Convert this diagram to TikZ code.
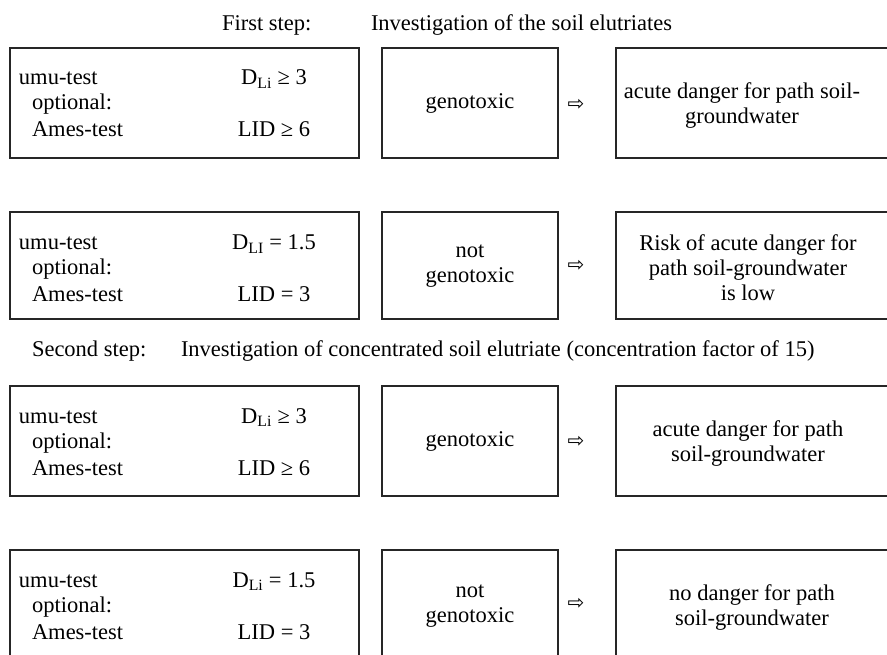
\documentclass[tikz,border=0pt]{standalone}
\usepackage{fontspec}
\setmainfont{Liberation Serif}
\newfontfamily\symfont{DejaVu Sans}
\begin{document}
\begin{tikzpicture}[x=1pt,y=-1pt,
  every node/.style={inner sep=0pt, outer sep=0pt, font=\fontsize{22.5}{25}\selectfont},
  box/.style={draw=black!85, line width=1.6pt},
  lbl/.style={anchor=base west},
  val/.style={anchor=base},
  mid/.style={align=center},
  arr/.style={font=\symfont\fontsize{20}{20}\selectfont}]
\clip (0,0) rectangle (887,655);
\useasboundingbox (0,0) rectangle (887,655);

% headings
\node[lbl] (h1a) at (222,31) {First step:};
\node[lbl] (h1b) at (371,31) {Investigation of the soil elutriates};
\node[lbl] (h2a) at (32,356) {Second step:};
\node[lbl] (h2b) at (181,356) {Investigation of concentrated soil elutriate (concentration factor of 15)};

% ---------- row 1 ----------
\node[box, minimum width=349pt, minimum height=110pt] (a1) at (184.5,103) {};
\node[box, minimum width=176pt, minimum height=110pt] (b1) at (470,103) {};
\node[box, minimum width=290pt, minimum height=110pt] (c1) at (761,103) {};
\node[lbl] (a1u) at (19,85) {umu-test};
\node[lbl] (a1o) at (32,110) {optional:};
\node[lbl] (a1m) at (32,137) {Ames-test};
\node[val] (a1d) at (274,85) {D\textsubscript{Li} ≥ 3};
\node[val] (a1l) at (274,137) {LID ≥ 6};
\node (b1t) at (470,103) {genotoxic};
\node[arr] (r1) at (576,105) {⇨};
\node[mid] (c1t) at (742,106) {acute danger for path soil-\\groundwater};

% ---------- row 2 ----------
\node[box, minimum width=349pt, minimum height=107pt] (a2) at (184.5,265.5) {};
\node[box, minimum width=176pt, minimum height=107pt] (b2) at (470,265.5) {};
\node[box, minimum width=290pt, minimum height=107pt] (c2) at (761,265.5) {};
\node[lbl] (a2u) at (19,250) {umu-test};
\node[lbl] (a2o) at (32,275) {optional:};
\node[lbl] (a2m) at (32,302) {Ames-test};
\node[val] (a2d) at (274,250) {D\textsubscript{LI} = 1.5};
\node[val] (a2l) at (274,302) {LID = 3};
\node[mid] (b2t) at (470,266) {not\\genotoxic};
\node[arr] (r2) at (576,266) {⇨};
\node[mid] (c2t) at (748,268) {Risk of acute danger for\\path soil-groundwater\\is low};

% ---------- row 3 ----------
\node[box, minimum width=349pt, minimum height=110pt] (a3) at (184.5,441) {};
\node[box, minimum width=176pt, minimum height=110pt] (b3) at (470,441) {};
\node[box, minimum width=290pt, minimum height=110pt] (c3) at (761,441) {};
\node[lbl] (a3u) at (19,423) {umu-test};
\node[lbl] (a3o) at (32,448) {optional:};
\node[lbl] (a3m) at (32,475) {Ames-test};
\node[val] (a3d) at (274,423) {D\textsubscript{Li} ≥ 3};
\node[val] (a3l) at (274,475) {LID ≥ 6};
\node (b3t) at (470,441) {genotoxic};
\node[arr] (r3) at (576,442) {⇨};
\node[mid] (c3t) at (748,444) {acute danger for path\\soil-groundwater};

% ---------- row 4 ----------
\node[box, minimum width=349pt, minimum height=110pt] (a4) at (184.5,605) {};
\node[box, minimum width=176pt, minimum height=110pt] (b4) at (470,605) {};
\node[box, minimum width=290pt, minimum height=110pt] (c4) at (761,605) {};
\node[lbl] (a4u) at (19,587) {umu-test};
\node[lbl] (a4o) at (32,612) {optional:};
\node[lbl] (a4m) at (32,639) {Ames-test};
\node[val] (a4d) at (274,587) {D\textsubscript{Li} = 1.5};
\node[val] (a4l) at (274,639) {LID = 3};
\node[mid] (b4t) at (470,606) {not\\genotoxic};
\node[arr] (r4) at (576,604) {⇨};
\node[mid] (c4t) at (752,608) {no danger for path\\soil-groundwater};
\end{tikzpicture}
\end{document}
